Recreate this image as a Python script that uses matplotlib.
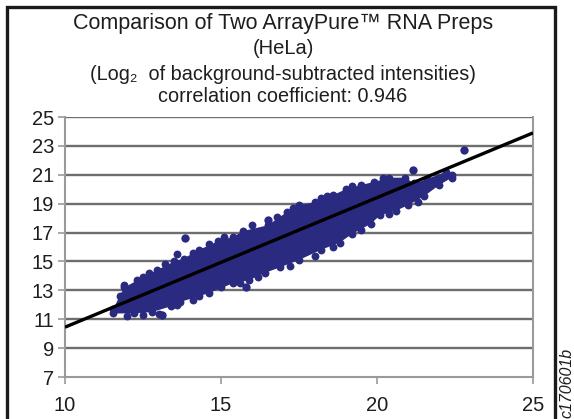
import matplotlib.pyplot as plt
from matplotlib.patches import Rectangle

plt.rcParams['font.family'] = ['Liberation Sans', 'DejaVu Sans']

# upper and lower edges of the dense point cloud
upper_x = [11.55, 11.75, 11.9, 12.5, 12.95, 13.5, 13.8, 14.3, 14.9, 15.4, 15.7, 16.5,
           17.1, 17.5, 18.0, 18.2, 18.6, 19.0, 19.5, 19.9, 20.4, 20.9, 21.2, 21.6, 22.2, 22.4]
upper_y = [11.7, 12.6, 13.2, 13.9, 14.4, 15.0, 15.2, 15.8, 16.4, 16.7, 17.1, 17.5,
           18.4, 18.9, 19.1, 19.4, 19.6, 20.0, 20.3, 20.5, 20.8, 20.8, 20.4, 20.7, 21.2, 21.0]
lower_x = [11.55, 12.2, 12.8, 13.4, 13.7, 14.3, 14.6, 15.4, 15.9, 16.4, 16.9, 17.5,
           18.2, 18.8, 19.2, 19.8, 20.1, 20.6, 21.0, 21.5, 22.0, 22.4]
lower_y = [11.4, 11.4, 11.5, 11.9, 12.2, 12.6, 12.8, 13.5, 13.7, 14.2, 14.6, 15.1,
           15.8, 16.3, 16.9, 17.6, 18.2, 18.5, 18.9, 19.5, 20.3, 20.8]

# loose points sitting on the fuzzy rim of the cloud
rim_x = [11.9, 12.3, 12.7, 13.2, 13.6, 14.1, 14.6, 15.1, 16.0, 16.8, 17.3, 18.4, 19.2, 20.2,
         12.0, 12.5, 13.0, 13.6, 14.1, 15.0, 15.6, 16.2, 17.2, 18.0, 18.6, 19.5, 20.4, 21.3]
rim_y = [13.4, 13.7, 14.2, 14.8, 15.5, 15.6, 16.2, 16.7, 17.5, 18.1, 18.7, 19.5, 20.2, 20.8,
         11.25, 11.3, 11.35, 12.0, 12.3, 13.2, 13.5, 13.9, 14.7, 15.4, 16.0, 17.2, 18.3, 19.1]

# isolated points outside the cloud
out_x = [13.85, 15.8, 13.1, 21.15, 22.8, 16.5]
out_y = [16.6, 13.2, 11.3, 21.35, 22.75, 17.9]

# fitted line end points
line_x = [10, 25]
line_y = [10.45, 23.9]

xticks = [10, 15, 20, 25]
yticks = [7, 9, 11, 13, 15, 17, 19, 21, 23, 25]

navy = '#2a2a80'

fig = plt.figure(figsize=(5.74, 4.19), dpi=100)
fig.patches.append(Rectangle((7 / 574, -0.05), 548 / 574, 1 - 7 / 419 + 0.05,
                             transform=fig.transFigure, fill=False,
                             edgecolor='#1a1a1a', linewidth=2.4))
ax = fig.add_axes([65 / 574, 1 - 377 / 419, 468 / 574, 260 / 419])

ax.set_xlim(10, 25)
ax.set_ylim(7, 25)
for y in yticks[1:]:
    ax.axhline(y, color='#6e6e6e', linewidth=1.7, zorder=1)

poly_x = upper_x + lower_x[::-1]
poly_y = upper_y + lower_y[::-1]
ax.fill(poly_x, poly_y, color=navy, zorder=2, linewidth=0)
ax.scatter(upper_x + lower_x + rim_x, upper_y + lower_y + rim_y, s=32, color=navy,
           zorder=2, linewidths=0)
ax.scatter(out_x, out_y, s=36, color=navy, zorder=2, linewidths=0)
ax.plot(line_x, line_y, color='black', linewidth=2.4, zorder=3, solid_capstyle='butt')

ax.set_xticks(xticks)
ax.set_yticks(yticks)
ax.tick_params(axis='both', labelsize=14.5, colors='#9a9a9a', labelcolor='#1e1e1e',
               length=5, width=1.2)
ax.tick_params(axis='x', pad=9)
ax.tick_params(axis='y', pad=3)
for side in ['left', 'bottom', 'right']:
    ax.spines[side].set_color('#9a9a9a')
    ax.spines[side].set_linewidth(1.5)
ax.spines['top'].set_visible(False)

cx = 283 / 574
fig.text(cx, 1 - 24 / 419, 'Comparison of Two ArrayPure™ RNA Preps', ha='center', va='center',
         fontsize=15.5, color='#1e1e1e')
fig.text(cx, 1 - 49 / 419, '(HeLa)', ha='center', va='center', fontsize=14.5, color='#1e1e1e')
fig.text(cx, 1 - 74 / 419, '(Log₂  of background-subtracted intensities)', ha='center',
         va='center', fontsize=14.3, color='#1e1e1e')
fig.text(cx, 1 - 97 / 419, 'correlation coefficient: 0.946', ha='center', va='center',
         fontsize=14.3, color='#1e1e1e')
fig.text(567 / 574, 1 - 418 / 419, 'c170601b', rotation=90, ha='center', va='bottom',
         fontsize=11.5, style='italic', color='#1e1e1e')

fig.savefig('out.png', dpi=100)
